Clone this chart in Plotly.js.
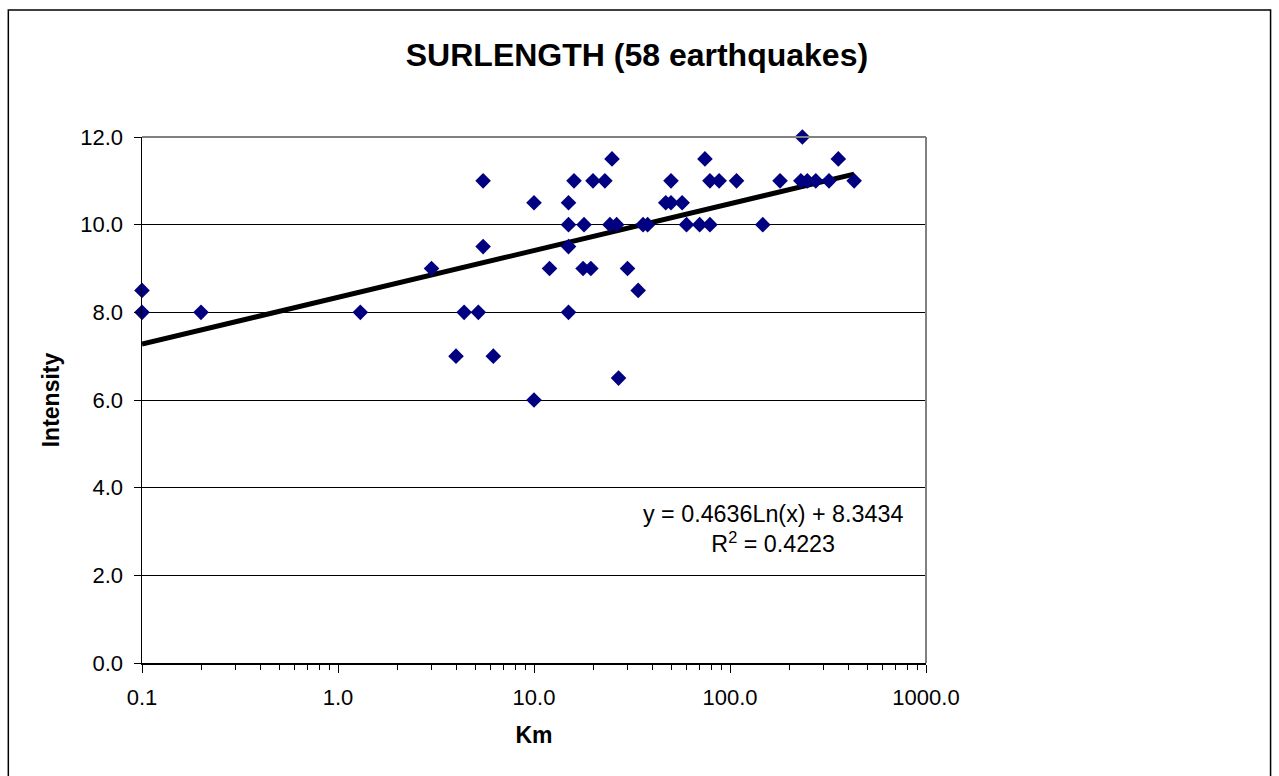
<!DOCTYPE html>
<html>
<head>
<meta charset="utf-8">
<script src="https://cdn.plot.ly/plotly-3.0.1.min.js"></script>
<style>html,body{margin:0;padding:0;background:#fff;}#chart{width:1279px;height:776px;}</style>
</head>
<body>
<div id="chart"></div>
<script>
// Surface rupture length (km) vs intensity
const lengthKm = [0.1, 0.1, 0.2, 1.3, 3.0, 4.0, 4.4, 5.2, 5.5, 5.5, 6.2, 10, 10, 12, 15, 15, 15, 15, 16, 17.8, 18, 19.5, 20, 23, 24.4, 25, 26.4, 27, 30, 34, 36, 38, 47, 50, 50, 57, 60, 70, 74.5, 79, 79, 88, 108, 147, 180, 230, 234, 248, 274, 320, 357, 430];
const intensity = [8.5, 8.0, 8.0, 8.0, 9.0, 7.0, 8.0, 8.0, 11.0, 9.5, 7.0, 10.5, 6.0, 9.0, 10.5, 10.0, 9.5, 8.0, 11.0, 9.0, 10.0, 9.0, 11.0, 11.0, 10.0, 11.5, 10.0, 6.5, 9.0, 8.5, 10.0, 10.0, 10.5, 10.5, 11.0, 10.5, 10.0, 10.0, 11.5, 10.0, 11.0, 11.0, 11.0, 10.0, 11.0, 11.0, 12.0, 11.0, 11.0, 11.0, 11.5, 11.0];

// Logarithmic trendline coefficients (as printed on the chart)
const trendSlope = 0.4636;
const trendIntercept = 8.3434;
const trendRsq = 0.4223;

const xTickVals = [0.1, 1, 10, 100, 1000];
const xTickText = ['0.1', '1.0', '10.0', '100.0', '1000.0'];
const yTickVals = [0, 2, 4, 6, 8, 10, 12];
const yTickText = ['0.0', '2.0', '4.0', '6.0', '8.0', '10.0', '12.0'];

const minorVals = [];
for (let d = 0; d < 4; d++) {
  for (let m = 2; m <= 9; m++) minorVals.push(m * Math.pow(10, d - 1));
}

const xMin = Math.min(...lengthKm), xMax = Math.max(...lengthKm);
const trendX = [xMin, xMax];
const trendY = trendX.map(v => trendSlope * Math.log(v) + trendIntercept);

const font = 'Liberation Sans, Arial, sans-serif';

const traces = [
  {
    x: trendX, y: trendY, type: 'scatter', mode: 'lines',
    line: {color: '#000000', width: 5}, hoverinfo: 'skip', showlegend: false
  },
  {
    x: lengthKm, y: intensity, type: 'scatter', mode: 'markers',
    marker: {symbol: 'diamond', size: 12, color: '#000080', line: {width: 0}},
    showlegend: false, cliponaxis: false
  }
];

const layout = {
  width: 1279, height: 776,
  paper_bgcolor: '#ffffff', plot_bgcolor: '#ffffff',
  margin: {l: 142, r: 353, t: 137, b: 112.5},
  showlegend: false,
  title: {
    text: '<b>SURLENGTH (58 earthquakes)</b>',
    font: {family: font, size: 32, color: '#000'},
    x: 0.498, xanchor: 'center', xref: 'container', y: 0.929, yanchor: 'middle'
  },
  xaxis: {
    type: 'log', range: [-1, 3],
    tickmode: 'array', tickvals: xTickVals, ticktext: xTickText,
    ticks: 'outside', ticklen: 8, tickcolor: '#000', tickwidth: 1,
    minor: {tickmode: 'array', tickvals: minorVals, ticks: 'outside', ticklen: 5, tickcolor: '#000', showgrid: false},
    showline: true, linecolor: '#000', linewidth: 1.5,
    showgrid: false, zeroline: false,
    tickfont: {family: font, size: 22, color: '#000'},
    ticklabelstandoff: 6,
    title: {text: '<b>Km</b>', font: {family: font, size: 23, color: '#000'}, standoff: 18}
  },
  yaxis: {
    range: [0, 12],
    tickmode: 'array', tickvals: yTickVals, ticktext: yTickText,
    ticks: 'outside', ticklen: 7, tickcolor: '#000', tickwidth: 1,
    showline: true, linecolor: '#000', linewidth: 1.5,
    showgrid: true, gridcolor: '#000', gridwidth: 1, zeroline: false,
    tickfont: {family: font, size: 22, color: '#000'},
    ticklabelstandoff: 6,
    title: {text: '<b>Intensity</b>', font: {family: font, size: 23, color: '#000'}, standoff: 14}
  },
  shapes: [
    {type: 'line', xref: 'paper', yref: 'paper', x0: 0, x1: 1, y0: 1, y1: 1, line: {color: '#808080', width: 2}},
    {type: 'line', xref: 'paper', yref: 'paper', x0: 1, x1: 1, y0: 0, y1: 1, line: {color: '#808080', width: 2}},
    {type: 'rect', xref: 'paper', yref: 'paper', x0: -0.1705, x1: 1.4395, y0: -0.26, y1: 1.2415, line: {color: '#000', width: 1.5}, fillcolor: 'rgba(0,0,0,0)', layer: 'below'}
  ],
  annotations: [
    {
      xref: 'paper', yref: 'paper', x: 0.805, y: 0.255, xanchor: 'center', yanchor: 'middle',
      text: 'y = ' + trendSlope.toFixed(4) + 'Ln(x) + ' + trendIntercept.toFixed(4) + '<br>R<sup>2</sup> = ' + trendRsq.toFixed(4),
      align: 'center', showarrow: false,
      font: {family: font, size: 23.3, color: '#000'}
    }
  ]
};

Plotly.newPlot('chart', traces, layout, {displayModeBar: false, staticPlot: true});
</script>
</body>
</html>
